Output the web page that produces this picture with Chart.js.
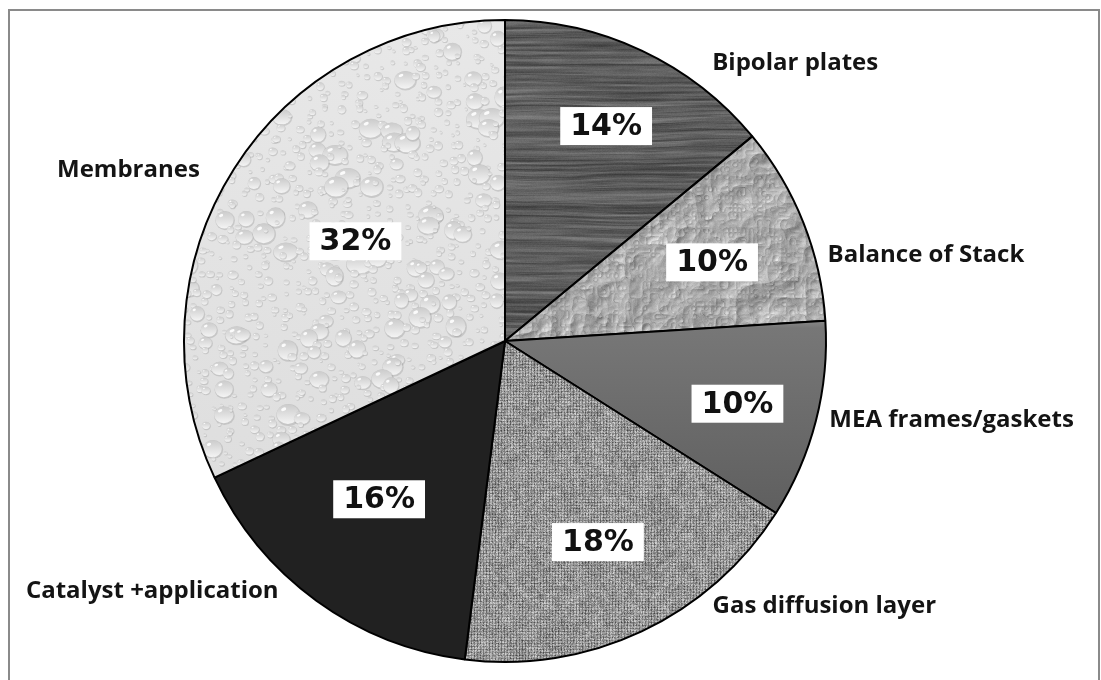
<!DOCTYPE html>
<html><head><meta charset="utf-8">
<script src="https://cdn.jsdelivr.net/npm/chart.js@4.4.1/dist/chart.umd.min.js"></script>
<style>html,body{margin:0;padding:0;background:#fff;overflow:hidden}canvas{display:block}</style>
</head><body>
<canvas id="c" width="1101" height="680"></canvas>
<script>
// ---- data ----
const categories = ["Bipolar plates", "Balance of Stack", "MEA frames/gaskets", "Gas diffusion layer", "Catalyst +application", "Membranes"];
const shares = [14, 10, 10, 18, 16, 32];
const percentLabels = shares.map(v => v + '%');

// ---- style (placement of labels, relative to pie geometry) ----
const pctRadiusFactor = [0.74, 0.69, 0.75, 0.69, 0.63, 0.56];
const pctAngleShiftDeg = [0, 0.8, 0.7, 0.4, 2.5, 1.3];
const outerAngleDeg = [36.7, 75.1, 103.7, 142, 222.2, 299.3];
const outerDistFactor = [1.08, 1.04, 1.04, 1.05, 1.05, 1.09];

const W = 1101, H = 680;
function hash(i, j) { let h = Math.sin(i * 127.1 + j * 311.7) * 43758.5453; return h - Math.floor(h); }
function vnoise(x, y) {
  const xi = Math.floor(x), yi = Math.floor(y), xf = x - xi, yf = y - yi;
  const u = xf * xf * (3 - 2 * xf), v = yf * yf * (3 - 2 * yf);
  const a = hash(xi, yi), b = hash(xi + 1, yi), c = hash(xi, yi + 1), d = hash(xi + 1, yi + 1);
  return a + (b - a) * u + (c - a) * v + (a - b - c + d) * u * v;
}
function makeCanvas() { const c = document.createElement('canvas'); c.width = W; c.height = H; return c; }
function pixelTexture(fn, x0, y0, x1, y1) {
  const c = makeCanvas(); const g = c.getContext('2d');
  const img = g.createImageData(W, H); const d = img.data;
  for (let y = y0; y < y1; y++) for (let x = x0; x < x1; x++) {
    let v = fn(x, y); v = Math.max(0, Math.min(255, v));
    const k = (y * W + x) * 4; d[k] = d[k + 1] = d[k + 2] = v; d[k + 3] = 255;
  }
  g.putImageData(img, 0, 0); return c;
}
const mainCtx = document.getElementById('c').getContext('2d');
// wood grain
const wood = pixelTexture((x, y) => {
  const yy = y + 4 * vnoise(x / 90, y / 30);
  return 95 + 55 * (vnoise(x / 160, yy / 2.4) - 0.5) + 25 * (vnoise(x / 25, yy / 0.9) - 0.5) + 8 * (hash(x, y) - 0.5);
}, 495, 10, 760, 350);
// crumpled paper
const crumple = (() => {
  const hf = (x, y) => {
    let s = 0, amp = 1, f = 1 / 38;
    for (let o = 0; o < 4; o++) { s += amp * Math.abs(vnoise(x * f + o * 17, y * f) * 2 - 1); amp *= 0.5; f *= 2.1; }
    return s;
  };
  return pixelTexture((x, y) => {
    const h0 = hf(x, y), hx = hf(x + 1, y), hy = hf(x, y + 1);
    return 168 + 420 * ((hx - h0) * -0.7 + (hy - h0) * -0.7) + 10 * (hash(x, y) - 0.5);
  }, 495, 130, 835, 350);
})();
// MEA gradient
const meaCanvas = (() => {
  const c = makeCanvas(); const g = c.getContext('2d');
  const gr = g.createLinearGradient(0, 320, 0, 520);
  gr.addColorStop(0, '#8a8a8a'); gr.addColorStop(0.04, '#777777'); gr.addColorStop(1, '#5e5e5e');
  g.fillStyle = gr; g.fillRect(0, 0, W, H); return c;
})();
// woven gas diffusion layer
const weave = pixelTexture((x, y) => {
  let v = 170 + 70 * (hash(x, y) - 0.5) + 25 * (vnoise(x / 6, y / 6) - 0.5);
  if (x % 3 === 0) v -= 38;
  if (y % 3 === 1) v -= 28;
  return v;
}, 440, 320, 800, 680);
// water drops
const drops = (() => {
  const c = makeCanvas(); const g = c.getContext('2d');
  const bg = g.createLinearGradient(0, 20, 0, 480);
  bg.addColorStop(0, '#e8e8e8'); bg.addColorStop(1, '#dedede');
  g.fillStyle = bg; g.fillRect(0, 0, W, H);
  const cell = 12;
  for (let cy = 0; cy < H / cell + 1; cy++) for (let cx = 0; cx < 560 / cell + 1; cx++) {
    const r1 = hash(cx, cy), r2 = hash(cx + 0.3, cy + 7.1), r3 = hash(cx + 5.5, cy + 2.2);
    const x = cx * cell + r1 * cell, y = cy * cell + r2 * cell;
    const big = r3 > 0.88;
    const r = big ? 6 + r1 * 5 : 1.5 + r3 * 3.5;
    const rx = r * (0.9 + 0.4 * r2), ry = r;
    g.fillStyle = 'rgba(150,150,150,0.35)';
    g.beginPath(); g.ellipse(x + 0.6, y + 0.8, rx, ry, 0, 0, Math.PI * 2); g.fill();
    const gr = g.createLinearGradient(x, y - ry, x, y + ry);
    gr.addColorStop(0, '#c9c9c9'); gr.addColorStop(0.55, '#e2e2e2'); gr.addColorStop(1, '#f6f6f6');
    g.fillStyle = gr;
    g.beginPath(); g.ellipse(x, y, rx * 0.92, ry * 0.9, 0, 0, Math.PI * 2); g.fill();
    if (r > 3) {
      g.fillStyle = 'rgba(255,255,255,0.9)';
      g.beginPath(); g.ellipse(x - rx * 0.35, y - ry * 0.45, rx * 0.22, ry * 0.15, -0.4, 0, Math.PI * 2); g.fill();
    }
  }
  return c;
})();
const fills = [
  mainCtx.createPattern(wood, 'no-repeat'),
  mainCtx.createPattern(crumple, 'no-repeat'),
  mainCtx.createPattern(meaCanvas, 'no-repeat'),
  mainCtx.createPattern(weave, 'no-repeat'),
  '#212121',
  mainCtx.createPattern(drops, 'no-repeat')
];

const framePlugin = {
  id: 'frame',
  beforeDraw(chart) {
    const g = chart.ctx; g.save();
    g.fillStyle = '#fff'; g.fillRect(0, 0, W, H);
    g.strokeStyle = '#8a8a8a'; g.lineWidth = 2;
    g.strokeRect(9, 10, 1090, 720);
    g.restore();
  }
};
const labelPlugin = {
  id: 'labels',
  afterDatasetsDraw(chart) {
    const g = chart.ctx; const meta = chart.getDatasetMeta(0);
    g.save();
    meta.data.forEach((arc, i) => {
      const R = arc.outerRadius, cx = arc.x, cy = arc.y;
      const m = (arc.startAngle + arc.endAngle) / 2 + pctAngleShiftDeg[i] * Math.PI / 180;
      const px = cx + R * pctRadiusFactor[i] * Math.cos(m);
      const py = cy + R * pctRadiusFactor[i] * Math.sin(m);
      g.font = 'bold 30px "DejaVu Sans"';
      const tw = g.measureText(percentLabels[i]).width;
      const bw = tw + 20, bh = 38;
      g.fillStyle = '#ffffff';
      g.fillRect(px - bw / 2, py - bh / 2, bw, bh);
      g.fillStyle = '#111111'; g.textAlign = 'center'; g.textBaseline = 'middle';
      g.fillText(percentLabels[i], px, py + 1);
      const a = outerAngleDeg[i] * Math.PI / 180;
      const ox = cx + R * outerDistFactor[i] * Math.sin(a);
      const oy = cy - R * outerDistFactor[i] * Math.cos(a);
      g.font = 'bold 24px "Open Sans"';
      g.textAlign = outerAngleDeg[i] < 180 ? 'left' : 'right';
      g.fillStyle = '#141414';
      g.fillText(categories[i], ox, oy);
    });
    g.restore();
  }
};

new Chart(document.getElementById('c'), {
  type: 'pie',
  data: {
    labels: categories,
    datasets: [{ data: shares, backgroundColor: fills, borderColor: '#000000', borderWidth: 2 }]
  },
  options: {
    responsive: false,
    animation: false,
    events: [],
    layout: { padding: { left: 183, right: 274, top: 19, bottom: 17 } },
    plugins: { legend: { display: false }, tooltip: { enabled: false } }
  },
  plugins: [framePlugin, labelPlugin]
});
</script>
</body></html>
